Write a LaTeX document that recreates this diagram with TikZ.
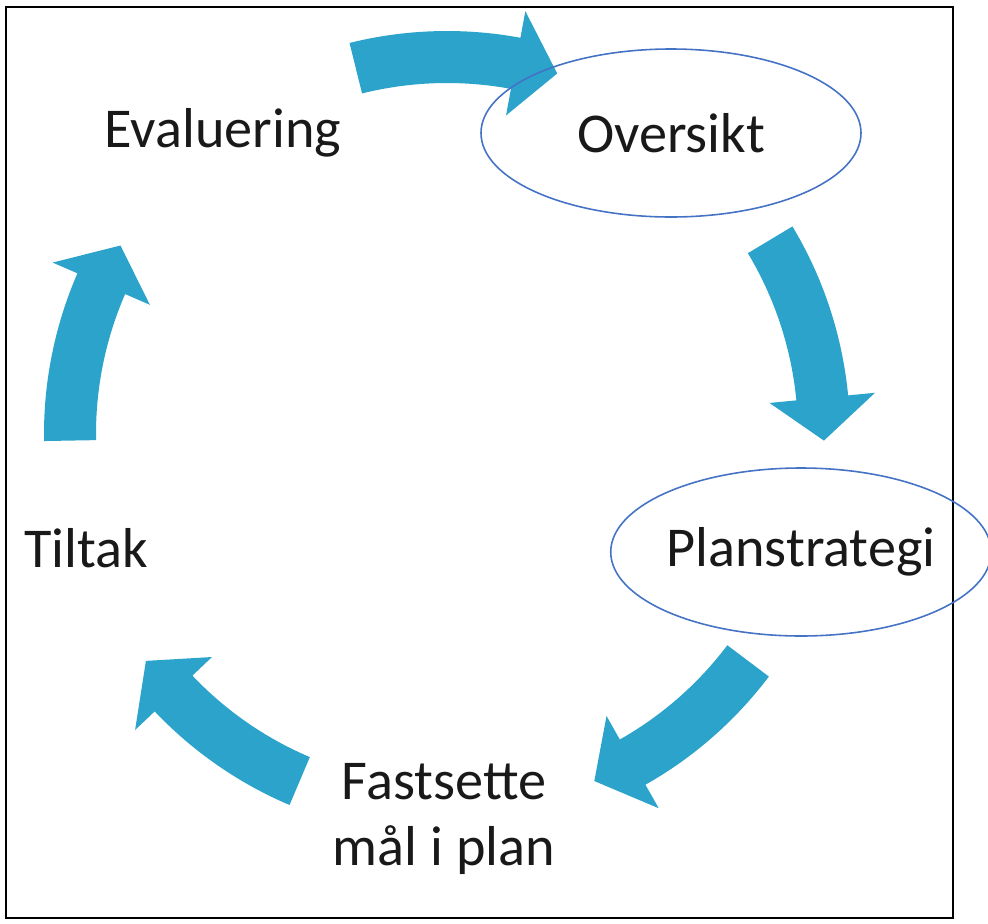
\documentclass[tikz,border=0pt]{standalone}
\usepackage{fontspec}
\setmainfont{Carlito}
\usetikzlibrary{calc, shapes.geometric}
\definecolor{flowblue}{HTML}{2BA3CA}
\definecolor{ringblue}{HTML}{4472C4}

% buet pil langs sirkelen: #1 = vinkel ved hale, #2 = vinkel ved spiss
\newcommand{\ringarrow}[2]{%
    \pgfmathsetmacro{\hb}{#2+6.5}
    \fill[flow] ($(cyc)+(#1:8.06)$) arc[start angle=#1, end angle=\hb, radius=8.06]
        -- ($(cyc)+(\hb:8.6)$) -- ($(cyc)+(#2:7.54)$) -- ($(cyc)+(\hb:6.48)$)
        -- ($(cyc)+(\hb:7.02)$) arc[start angle=\hb, end angle=#1, radius=7.02] -- cycle;
}

\begin{document}
\begin{tikzpicture}[
    flow/.style={fill=flowblue},
    phase/.style={font=\fontsize{32}{37}\selectfont, text=black!90, inner sep=0pt},
    ring/.style={ellipse, draw=ringblue, line width=0.9pt}
]
    \useasboundingbox (0,0) rectangle (19.76,-18.46);
    \draw[line width=1pt] (0.12,-0.14) rectangle (19.06,-18.36);
    \coordinate (cyc) at (8.94,-8.68);

    % piler rundt sirkelen
    \foreach \s/\t in {181/150, 104/73, 31/-1, -37/-67, -113/-143}
        \ringarrow{\s}{\t};

    % faser
    \node[phase, ring, minimum width=7.6cm, minimum height=3.36cm] (ovs) at (13.42,-2.66) {Oversikt};
    \node[phase, ring, minimum width=7.52cm, minimum height=3.36cm] (plan) at (16.02,-11.04) {Planstrategi};
    \node[phase, anchor=base, align=center] (fast) at (8.88,-17.3) {Fastsette\\mål i plan};
    \node[phase, anchor=base] (tilt) at (1.72,-11.34) {Tiltak};
    \node[phase, anchor=base] (eval) at (4.46,-2.94) {Evaluering};
\end{tikzpicture}
\end{document}
